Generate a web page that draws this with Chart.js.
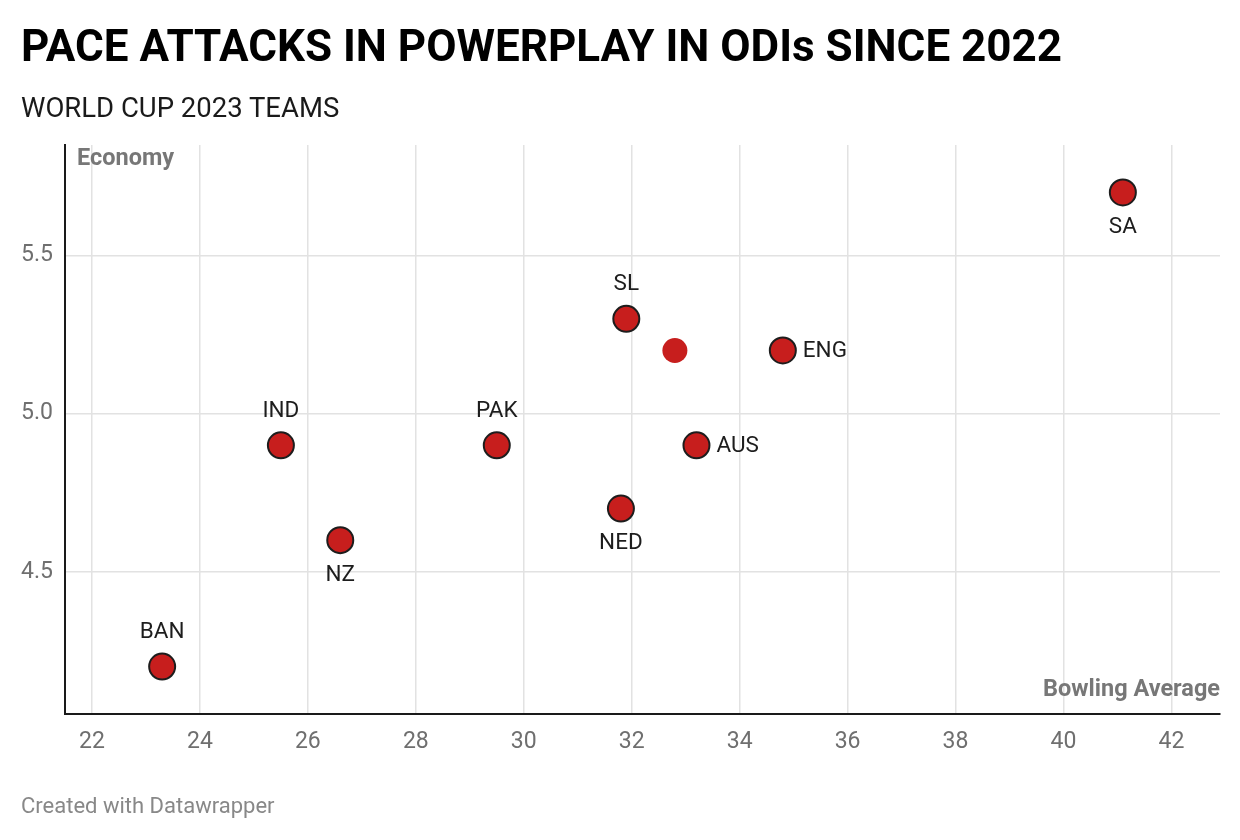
<!DOCTYPE html>
<html>
<head>
<meta charset="utf-8">
<script src="https://cdn.jsdelivr.net/npm/chart.js@4/dist/chart.umd.min.js"></script>
<style>
  html, body { margin: 0; padding: 0; background: #fff; }
  body { width: 1240px; height: 840px; position: relative; overflow: hidden; font-family: Roboto, sans-serif; }
  #title { position: absolute; left: 21px; top: 20px; font-size: 44px; font-weight: 700; color: #000; white-space: nowrap; }
  #subtitle { position: absolute; left: 21px; top: 91px; font-size: 27.5px; color: #1a1a1a; white-space: nowrap; }
  #footer { position: absolute; left: 21px; top: 793px; font-size: 22px; color: #888; white-space: nowrap; }
  #wrap { position: absolute; left: 0; top: 0; width: 1240px; height: 840px; }
</style>
</head>
<body>
<div id="wrap"><canvas id="chart" width="1240" height="840"></canvas></div>
<div id="title">PACE ATTACKS IN POWERPLAY IN ODIs SINCE 2022</div>
<div id="subtitle">WORLD CUP 2023 TEAMS</div>
<div id="footer">Created with Datawrapper</div>
<script>
// data
const teams      = ['SA', 'SL', '', 'ENG', 'IND', 'PAK', 'AUS', 'NED', 'NZ', 'BAN'];
const bowlingAvg = [41.1, 31.9, 32.8, 34.8, 25.5, 29.5, 33.2, 31.8, 26.6, 23.3];
const economy    = [5.7, 5.3, 5.2, 5.2, 4.9, 4.9, 4.9, 4.7, 4.6, 4.2];
const labelPos   = ['below', 'above', 'none', 'right', 'above', 'above', 'right', 'below', 'below', 'above'];
const xTickValues = [22, 24, 26, 28, 30, 32, 34, 36, 38, 40, 42];
const yTickValues = [4.5, 5.0, 5.5];

const points = bowlingAvg.map((x, i) => ({ x: x, y: economy[i] }));

// team names next to the dots
const pointLabels = {
  id: 'pointLabels',
  afterDatasetsDraw(chart) {
    const ctx = chart.ctx;
    const meta = chart.getDatasetMeta(0);
    ctx.save();
    ctx.font = '22.5px Roboto';
    ctx.fillStyle = '#1d1d1d';
    ctx.textBaseline = 'middle';
    meta.data.forEach((el, i) => {
      const pos = labelPos[i];
      if (pos === 'none') return;
      if (pos === 'above') {
        ctx.textAlign = 'center';
        ctx.fillText(teams[i], el.x, el.y - 34);
      } else if (pos === 'below') {
        ctx.textAlign = 'center';
        ctx.fillText(teams[i], el.x, el.y + 35);
      } else {
        ctx.textAlign = 'left';
        ctx.fillText(teams[i], el.x + 20, el.y + 1);
      }
    });
    ctx.restore();
  }
};

// axis titles sit inside the plot
const axisTitles = {
  id: 'axisTitles',
  beforeDatasetsDraw(chart) {
    const ctx = chart.ctx;
    const a = chart.chartArea;
    ctx.save();
    ctx.font = 'bold 23.5px Roboto';
    ctx.fillStyle = '#777';
    ctx.textBaseline = 'middle';
    ctx.textAlign = 'left';
    ctx.fillText('Economy', a.left + 12, a.top + 14);
    ctx.textAlign = 'right';
    ctx.fillText('Bowling Average', a.right, a.bottom - 24);
    ctx.restore();
  }
};

new Chart(document.getElementById('chart'), {
  type: 'scatter',
  data: {
    datasets: [{
      data: points,
      backgroundColor: '#c71e1d',
      borderColor: '#1d1d1d',
      borderWidth: ctx => labelPos[ctx.dataIndex] === 'none' ? 0 : 2,
      pointRadius: ctx => labelPos[ctx.dataIndex] === 'none' ? 12.5 : 13,
      pointHoverRadius: 13
    }]
  },
  options: {
    responsive: false,
    animation: false,
    layout: { padding: { left: 0, top: 145, right: 20, bottom: 0 } },
    plugins: { legend: { display: false }, tooltip: { enabled: false } },
    scales: {
      x: {
        type: 'linear',
        min: 21.5,
        max: 42.9,
        afterBuildTicks: s => { s.ticks = xTickValues.map(v => ({ value: v })); },
        afterFit: s => { s.height = 126; },
        grid: { color: '#e2e2e2', lineWidth: 1.5, drawTicks: false },
        border: { display: true, color: '#1a1a1a', width: 2 },
        ticks: { color: '#6f6f6f', font: { family: 'Roboto', size: 23 }, padding: 14, maxRotation: 0 }
      },
      y: {
        type: 'linear',
        min: 4.05,
        max: 5.85,
        afterBuildTicks: s => { s.ticks = yTickValues.map(v => ({ value: v })); },
        afterFit: s => { s.width = 65; },
        grid: { color: '#e2e2e2', lineWidth: 1.5, drawTicks: false },
        border: { display: true, color: '#1a1a1a', width: 2 },
        ticks: { color: '#6f6f6f', font: { family: 'Roboto', size: 23 }, padding: 12, callback: v => v.toFixed(1) }
      }
    }
  },
  plugins: [axisTitles, pointLabels]
});
</script>
</body>
</html>
